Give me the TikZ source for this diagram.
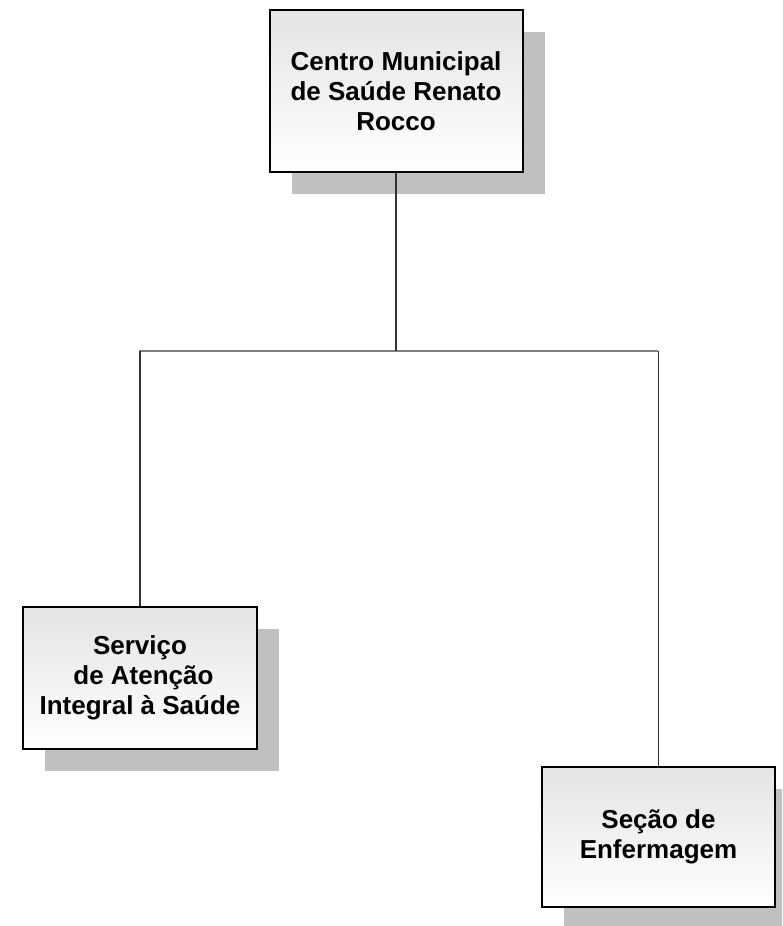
\documentclass[tikz,border=0pt]{standalone}
\usepackage{fontspec}
\setmainfont{Liberation Sans}
\usetikzlibrary{shadows}
\definecolor{boxtop}{HTML}{E4E4E4}
\definecolor{shadowgray}{HTML}{C0C0C0}
\definecolor{vline}{HTML}{333333}
\definecolor{hline}{HTML}{808080}
\begin{document}
\begin{tikzpicture}[x=1pt,y=-1pt,
  orgbox/.style={draw=black, line width=2pt, top color=boxtop, bottom color=white,
    align=center, inner sep=0pt,
    font=\bfseries\fontsize{26}{30}\selectfont,
    drop shadow={shadow xshift=22pt, shadow yshift=-22pt, fill=shadowgray, opacity=1}},
  vconn/.style={draw=vline, line width=1.2pt},
  hconn/.style={draw=hline, line width=1.2pt}]
\useasboundingbox (0,0) rectangle (782,926);
\clip (0,0) rectangle (782,926);

\node[orgbox, minimum width=253pt, minimum height=162pt] (top) at (396,91)
  {Centro Municipal\\de Saúde Renato\\Rocco};
\node[orgbox, minimum width=234pt, minimum height=142pt] (left) at (140,678)
  {Serviço\\\hspace*{7pt}de Atenção\\Integral à Saúde};
\node[orgbox, minimum width=233pt, minimum height=140pt] (right) at (658.5,837)
  {Seção de\\Enfermagem};

\coordinate (busL) at (139,351);
\coordinate (busR) at (658,351);
\draw[hconn] (busL) -- (busR);
\draw[vconn] (top.south) -- (top.south |- busL);
\draw[vconn] (left.north) -- (left.north |- busL);
\draw[vconn] (right.north) -- (right.north |- busR);
\end{tikzpicture}
\end{document}
